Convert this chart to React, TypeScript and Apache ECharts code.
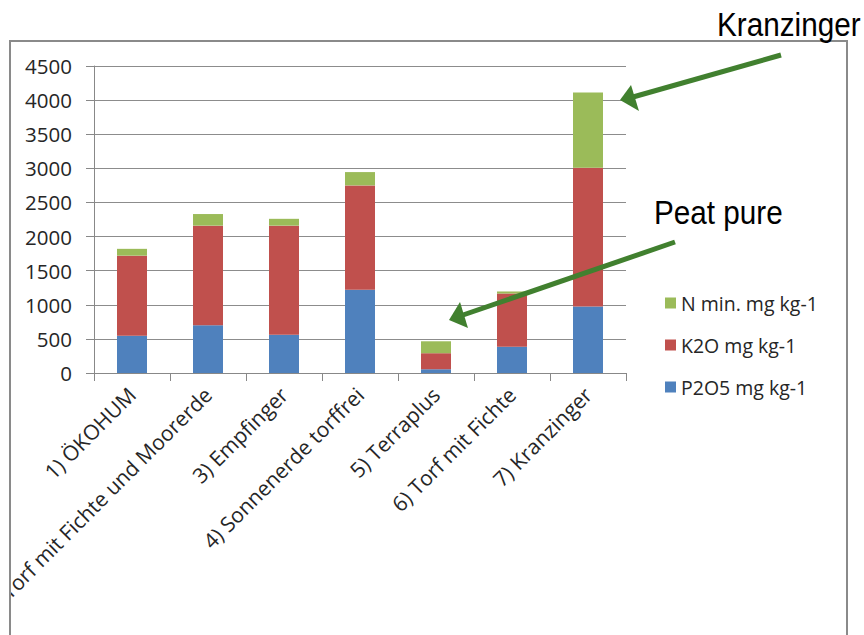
import React, { useEffect, useRef } from "react";
import * as echarts from "echarts";

const categories = [
  "1) ÖKOHUM",
  "2) Torf mit Fichte und Moorerde",
  "3) Empfinger",
  "4) Sonnenerde torffrei",
  "5) Terraplus",
  "6) Torf mit Fichte",
  "7) Kranzinger",
];
const seriesNames = ["P2O5 mg kg-1", "K2O mg kg-1", "N min. mg kg-1"];
const p2o5 = [545, 700, 560, 1220, 55, 385, 975];
const k2o = [1175, 1460, 1600, 1530, 235, 780, 2035];
const nmin = [100, 170, 100, 195, 175, 30, 1100];
const yMin = 0;
const yMax = 4500;
const yStep = 500;

const colors = ["#4f81bd", "#c0504d", "#9bbb59"];
const arrowColor = "#41802f";
const textColor = "#262626";
const uiFont = "'Open Sans', sans-serif";

export default function App() {
  const ref = useRef<HTMLDivElement>(null);
  useEffect(() => {
    if (!ref.current) return;
    const chart = echarts.init(ref.current, undefined, { renderer: "svg" });
    const values = [p2o5, k2o, nmin];
    chart.setOption({
      animation: false,
      backgroundColor: "#ffffff",
      grid: {
        left: 94,
        right: 238,
        top: 66,
        bottom: 262,
        containLabel: false,
        outerBoundsMode: "none",
      },
      legend: {
        orient: "vertical",
        left: 660,
        top: 288,
        icon: "rect",
        itemWidth: 11,
        itemHeight: 11,
        itemGap: 22,
        data: [seriesNames[2], seriesNames[1], seriesNames[0]],
        textStyle: { fontFamily: uiFont, fontSize: 19.5, color: textColor, lineHeight: 20 },
      },
      xAxis: {
        type: "category",
        data: categories,
        axisLine: { lineStyle: { color: "#888888", width: 1 } },
        axisTick: { show: true, length: 8, alignWithLabel: false, lineStyle: { color: "#888888" } },
        axisLabel: {
          rotate: 45,
          interval: 0,
          margin: 18,
          fontFamily: uiFont,
          fontSize: 21,
          color: textColor,
        },
        splitLine: { show: false },
      },
      yAxis: {
        type: "value",
        min: yMin,
        max: yMax,
        interval: yStep,
        axisLine: { show: true, lineStyle: { color: "#888888", width: 1 } },
        axisTick: { show: true, length: 8, lineStyle: { color: "#888888" } },
        axisLabel: {
          margin: 22,
          fontFamily: uiFont,
          fontSize: 20.5,
          color: textColor,
          formatter: (v: number) => String(v),
        },
        splitLine: { show: true, lineStyle: { color: "#8c8c8c", width: 1 } },
      },
      series: seriesNames.map((name, i) => ({
        name,
        type: "bar",
        stack: "total",
        barWidth: 30,
        data: values[i],
        itemStyle: { color: colors[i] },
      })),
      graphic: [
        {
          type: "rect",
          z: 100,
          silent: true,
          shape: { x: 0, y: 42, width: 9, height: 600 },
          style: { fill: "#ffffff" },
        },
        {
          type: "rect",
          z: 101,
          silent: true,
          shape: { x: 10, y: 41, width: 837, height: 640 },
          style: { fill: "none", stroke: "#8a8a8a", lineWidth: 2 },
        },
        {
          type: "line",
          z: 110,
          silent: true,
          shape: { x1: 781, y1: 55, x2: 633, y2: 97 },
          style: { stroke: arrowColor, lineWidth: 5 },
        },
        {
          type: "polygon",
          z: 110,
          silent: true,
          shape: { points: [[620, 100], [631, 85], [639, 111]] },
          style: { fill: arrowColor },
        },
        {
          type: "line",
          z: 110,
          silent: true,
          shape: { x1: 675, y1: 242, x2: 463, y2: 315 },
          style: { stroke: arrowColor, lineWidth: 5 },
        },
        {
          type: "polygon",
          z: 110,
          silent: true,
          shape: { points: [[449, 320], [460, 302], [468, 328]] },
          style: { fill: arrowColor },
        },
        {
          type: "text",
          z: 120,
          silent: true,
          x: 717,
          y: 25,
          scaleX: 0.9,
          style: {
            text: "Kranzinger",
            x: 0,
            y: 0,
            fill: "#000000",
            fontFamily: "'Liberation Sans', Arial, sans-serif",
            fontSize: 33,
            textAlign: "left",
            textVerticalAlign: "middle",
          },
        },
        {
          type: "text",
          z: 120,
          silent: true,
          x: 654,
          y: 213,
          scaleX: 0.9,
          style: {
            text: "Peat pure",
            x: 0,
            y: 0,
            fill: "#000000",
            fontFamily: "'Liberation Sans', Arial, sans-serif",
            fontSize: 33,
            textAlign: "left",
            textVerticalAlign: "middle",
          },
        },
      ],
    });
    return () => chart.dispose();
  }, []);
  return (
    <div
      ref={ref}
      style={{ position: "absolute", left: 0, top: 0, width: 864, height: 635, background: "#fff" }}
    />
  );
}
